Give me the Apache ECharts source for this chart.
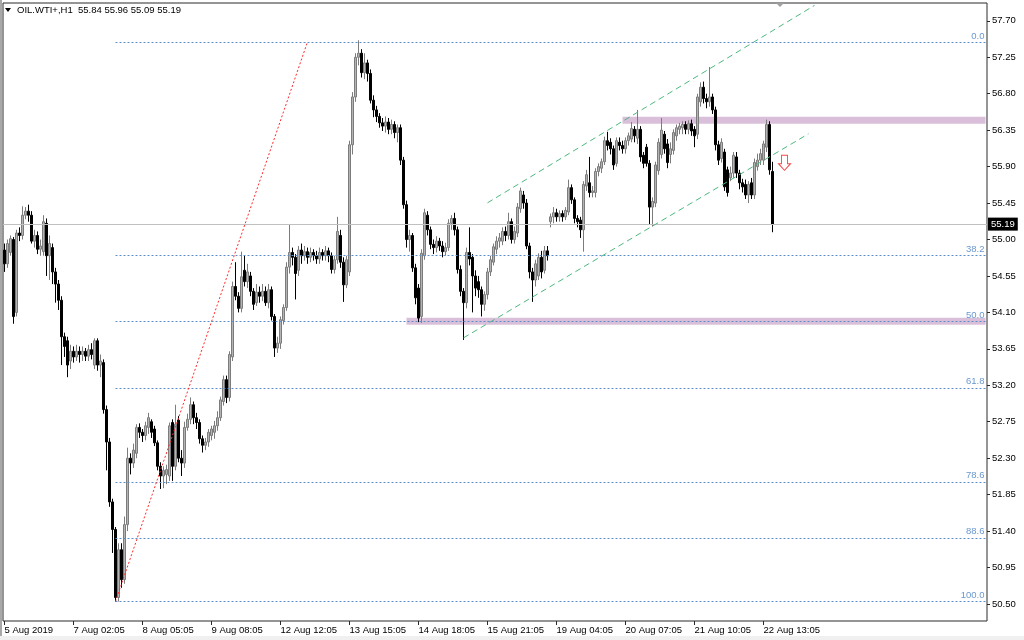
<!DOCTYPE html>
<html><head><meta charset="utf-8">
<script src="https://cdn.jsdelivr.net/npm/echarts@6/dist/echarts.min.js"></script>
<style>html,body{margin:0;padding:0;background:#fff}#c{width:1024px;height:640px}</style>
</head><body><div id="c"></div>
<script>
// ---- data ----
const totalSlots = 328;
const labelIdx = [0, 23, 46, 69, 92, 115, 138, 161, 184, 207, 230, 253];
const labelText = ['5 Aug 2019','7 Aug 02:05','8 Aug 05:05','9 Aug 08:05','12 Aug 12:05','13 Aug 15:05','14 Aug 18:05','15 Aug 21:05','19 Aug 04:05','20 Aug 07:05','21 Aug 10:05','22 Aug 13:05'];
const yTicks = [50.50,50.95,51.40,51.85,52.30,52.75,53.20,53.65,54.10,54.55,55.00,55.45,55.90,56.35,56.80,57.25,57.70];
// [open, close, low, high]
const candles = [
[54.87,54.70,54.60,54.95],[54.70,54.95,54.65,55.00],[54.84,55.01,54.80,55.05],[55.00,54.05,53.96,55.03],[54.10,55.08,54.05,55.12],
[55.08,55.05,54.98,55.15],[55.05,55.30,55.00,55.41],[55.30,55.35,55.25,55.40],[55.35,55.30,55.22,55.43],[55.30,54.98,54.95,55.35],
[54.98,55.05,54.90,55.12],[55.05,54.88,54.82,55.10],[54.88,54.92,54.80,55.00],[54.85,55.22,54.80,55.30],[55.20,54.80,54.55,55.26],
[54.80,54.95,54.50,55.05],[54.90,54.60,54.45,54.95],[54.60,54.45,54.22,54.65],[54.45,54.25,54.13,54.50],[54.25,53.80,53.45,54.30],
[53.80,53.68,53.55,53.85],[53.75,53.45,53.30,53.80],[53.50,53.62,53.40,53.70],[53.62,53.55,53.48,53.68],[53.55,53.62,53.50,53.70],
[53.62,53.58,53.48,53.68],[53.58,53.62,53.50,53.68],[53.62,53.56,53.50,53.66],[53.56,53.64,53.50,53.70],[53.64,53.58,53.52,53.72],
[53.45,53.75,53.40,53.78],[53.75,53.45,53.38,53.78],[53.45,53.50,53.30,53.58],[53.48,52.90,52.85,53.52],[52.90,52.50,52.15,52.95],
[52.50,51.76,51.70,52.55],[51.76,51.42,51.13,51.80],[51.42,50.58,50.53,51.45],[50.58,51.17,50.53,51.25],[51.17,50.80,50.70,51.25],
[50.80,51.48,50.75,51.58],[51.48,52.30,51.40,52.43],[52.30,52.24,52.10,52.36],[52.24,52.40,52.18,52.48],[52.36,52.68,52.30,52.72],
[52.68,52.62,52.55,52.73],[52.62,52.58,52.50,52.66],[52.58,52.70,52.52,52.75],[52.68,52.80,52.60,52.86],[52.75,52.62,52.55,52.78],
[52.66,52.49,52.45,52.70],[52.49,52.20,52.15,52.52],[52.20,52.08,51.92,52.25],[52.08,52.15,51.93,52.20],[52.10,52.16,51.98,52.22],
[52.08,52.70,52.02,52.74],[52.74,52.20,52.02,52.78],[52.20,52.72,52.15,52.96],[52.77,52.30,52.25,52.82],[52.30,52.24,52.08,52.40],
[52.24,52.68,52.18,52.75],[52.68,52.78,52.64,52.85],[52.78,52.96,52.72,53.05],[52.96,52.80,52.72,53.00],[52.80,52.74,52.66,52.86],
[52.74,52.54,52.48,52.78],[52.54,52.46,52.37,52.58],[52.46,52.50,52.40,52.55],[52.50,52.62,52.44,52.66],[52.58,52.66,52.52,52.70],
[52.62,52.70,52.54,52.76],[52.70,52.80,52.64,52.88],[52.80,53.02,52.76,53.06],[53.00,53.27,52.95,53.32],[53.27,53.05,52.98,53.32],
[53.05,53.58,53.00,53.62],[53.55,54.42,53.50,54.48],[54.42,54.30,54.25,54.72],[54.30,54.15,54.10,54.35],[54.15,54.54,54.10,54.85],
[54.62,54.48,54.42,54.80],[54.48,54.60,54.40,54.70],[54.55,54.36,54.30,54.60],[54.36,54.20,54.13,54.40],[54.22,54.35,54.18,54.45],
[54.35,54.30,54.22,54.42],[54.30,54.36,54.24,54.45],[54.36,54.22,54.18,54.42],[54.22,54.38,54.15,54.45],[54.38,54.05,54.00,54.42],
[54.05,53.66,53.55,54.08],[53.66,53.72,53.60,53.80],[53.72,54.01,53.65,54.05],[54.00,54.16,53.95,54.20],[54.16,54.66,54.12,54.72],
[54.66,54.84,54.58,55.18],[54.84,54.78,54.68,54.90],[54.78,54.58,54.26,54.82],[54.62,54.87,54.55,54.92],[54.87,54.80,54.70,54.95],
[54.80,54.85,54.74,54.92],[54.85,54.78,54.70,54.90],[54.78,54.84,54.72,54.90],[54.84,54.80,54.74,54.88],[54.80,54.76,54.70,54.86],
[54.76,54.84,54.70,54.90],[54.84,54.80,54.74,54.88],[54.80,54.86,54.74,54.92],[54.86,54.80,54.72,54.90],[54.80,54.63,54.58,54.84],
[54.63,54.75,54.58,54.80],[54.75,55.10,54.70,55.28],[55.05,54.72,54.65,55.12],[54.72,54.44,54.23,54.78],[54.44,54.75,54.40,54.80],
[54.60,56.17,54.55,56.22],[56.17,56.76,56.05,56.82],[56.76,57.25,56.70,57.30],[57.25,57.30,57.15,57.46],[57.30,57.06,57.00,57.35],
[57.06,57.18,56.98,57.30],[57.18,57.05,56.95,57.22],[57.05,56.72,56.68,57.10],[56.72,56.60,56.51,56.78],[56.60,56.52,56.45,56.65],
[56.52,56.44,56.38,56.56],[56.44,56.40,56.34,56.50],[56.40,56.45,56.32,56.52],[56.45,56.36,56.30,56.50],[56.36,56.42,56.30,56.48],
[56.42,56.32,56.25,56.46],[56.32,56.38,56.20,56.42],[56.38,55.98,55.92,56.42],[55.98,55.43,55.38,56.02],[55.43,55.00,54.90,55.48],
[55.00,55.05,54.85,55.12],[55.05,54.65,54.60,55.08],[54.65,54.28,54.20,54.70],[54.40,54.03,53.98,54.45],[54.05,54.83,53.97,54.88],
[54.80,55.33,54.75,55.38],[55.30,55.12,55.05,55.35],[55.12,54.94,54.88,55.16],[54.94,54.90,54.82,55.00],[54.90,54.98,54.84,55.04],
[54.98,54.92,54.86,55.02],[54.92,54.85,54.78,54.98],[54.85,54.90,54.80,54.96],[54.90,55.20,54.86,55.25],[55.20,55.26,55.12,55.30],
[55.26,55.12,55.05,55.33],[55.12,54.63,54.58,55.16],[54.63,54.36,54.30,54.68],[54.36,54.22,53.76,54.40],[54.22,54.84,54.15,54.90],
[54.84,54.76,54.68,55.15],[54.78,54.55,54.10,54.82],[54.55,54.40,54.30,54.62],[54.48,54.38,54.28,54.55],[54.38,54.20,54.05,54.42],
[54.20,54.32,54.12,54.36],[54.32,54.60,54.26,54.65],[54.60,54.75,54.55,54.80],[54.72,54.91,54.68,54.95],[54.88,54.98,54.82,55.04],
[54.98,55.02,54.90,55.08],[54.98,55.10,54.93,55.15],[55.10,55.05,54.98,55.16],[55.05,55.22,55.00,55.33],[55.22,55.00,54.95,55.26],
[55.00,55.10,54.95,55.16],[55.08,55.40,55.03,55.45],[55.38,55.60,55.33,55.64],[55.55,55.45,55.38,55.60],[55.45,54.92,54.88,55.50],
[54.92,54.60,54.52,54.96],[54.60,54.50,54.23,54.65],[54.50,54.70,54.42,54.75],[54.55,54.78,54.50,54.83],[54.78,54.60,54.52,54.86],
[54.62,54.86,54.58,54.92],[54.86,54.80,54.74,54.92],[55.22,55.28,55.15,55.32],[55.28,55.33,55.20,55.40],[55.33,55.28,55.22,55.38],
[55.28,55.32,55.22,55.36],[55.32,55.28,55.22,55.36],[55.28,55.36,55.24,55.40],[55.34,55.64,55.30,55.74],[55.64,55.49,55.44,55.68],
[55.49,55.26,55.20,55.52],[55.26,55.22,55.15,55.30],[55.24,55.12,55.02,55.28],[55.12,55.68,54.85,55.72],[55.66,55.80,55.60,55.86],
[55.70,55.58,55.52,56.02],[55.58,55.60,55.52,55.66],[55.58,55.84,55.52,55.88],[55.84,55.90,55.78,55.94],[55.88,55.96,55.82,56.00],
[55.96,56.22,55.92,56.27],[56.22,56.16,56.10,56.33],[56.20,56.12,56.05,56.25],[56.12,55.92,55.86,56.16],[55.94,56.22,55.90,56.26],
[56.20,56.16,56.10,56.26],[56.16,56.12,56.06,56.22],[56.12,56.22,56.06,56.26],[56.22,56.28,56.16,56.32],[56.24,56.37,56.20,56.45],
[56.36,56.28,56.20,56.40],[56.25,56.36,56.18,56.60],[56.36,56.02,55.96,56.40],[56.04,55.94,55.88,56.08],[56.14,55.94,55.90,56.18],
[55.94,55.40,55.18,55.98],[55.40,55.47,55.16,55.52],[55.45,55.92,55.40,55.96],[55.85,56.20,55.80,56.25],[56.05,56.35,56.00,56.50],
[56.30,56.12,56.06,56.34],[56.18,55.95,55.88,56.24],[56.05,56.12,55.94,56.20],[56.10,56.32,56.05,56.36],[56.28,56.38,56.22,56.42],
[56.36,56.40,56.30,56.44],[56.38,56.42,56.30,56.46],[56.42,56.36,56.30,56.46],[56.36,56.43,56.30,56.47],[56.43,56.34,56.28,56.48],
[56.36,56.28,56.14,56.40],[56.30,56.76,56.24,56.80],[56.70,56.88,56.64,56.94],[56.88,56.74,56.68,56.95],[56.74,56.70,56.62,56.80],
[56.70,56.76,56.64,57.13],[56.76,56.60,56.55,56.80],[56.60,56.17,56.10,56.64],[56.17,55.98,55.92,56.22],[56.00,56.20,55.95,56.25],
[56.08,55.65,55.60,56.12],[55.86,55.58,55.53,55.90],[55.76,55.82,55.72,55.90],[55.82,56.04,55.76,56.08],[56.02,55.82,55.76,56.08],
[55.82,55.70,55.62,55.86],[55.70,55.65,55.58,55.75],[55.68,55.55,55.50,55.74],[55.55,55.68,55.45,55.72],[55.70,55.55,55.50,55.76],
[55.55,55.95,55.50,56.00],[55.90,55.98,55.85,56.06],[55.98,56.06,55.92,56.12],[55.98,56.18,55.92,56.22],[56.14,56.42,56.08,56.48],
[56.42,55.86,55.80,56.46],[55.84,55.19,55.09,55.96]
];
const lastPrice = 55.19;
const fibHigh = 57.44, fibLow = 50.53;
const fibRatios = [0, 38.2, 50.0, 61.8, 78.6, 88.6, 100.0];
const fibLabels = ['0.0','38.2','50.0','61.8','78.6','88.6','100.0'];
const fibStartIdx = 37, fibDiagEndIdx = 100.5;
const bandUpper = [56.43, 56.515], bandUpperStart = 206;
const bandLower = [53.947, 54.033], bandLowerStart = 134;
const chanUpper = [[160.5, 55.453], [270, 57.89]];
const chanLower = [[152.5, 53.786], [267.5, 56.305]];
const arrowAt = [260, 55.947];

// ---- build ----
const categories = [];
for (let i = 0; i < totalSlots; i++) {
  const k = labelIdx.indexOf(i);
  categories.push(k >= 0 ? labelText[k] : '');
}
const showIdx = (i) => labelIdx.indexOf(i) >= 0;
const endIdx = totalSlots - 1;
const FONT = 'Liberation Sans, Arial, sans-serif';

const fibLines = fibRatios.map((r, k) => {
  const v = fibHigh - (fibHigh - fibLow) * r / 100;
  return [
    { coord: [fibStartIdx, v], lineStyle: { color: '#5a8fcc', type: [2, 2], width: 1 },
      label: { show: true, position: 'insideEndTop', formatter: fibLabels[k], color: '#6a98cf', fontSize: 9.5, fontFamily: FONT, distance: 1 } },
    { coord: [endIdx, v] }
  ];
});

const chart = echarts.init(document.getElementById('c'), null, { renderer: 'canvas' });
chart.setOption({
  animation: false,
  backgroundColor: '#fff',
  grid: { left: 3, right: 37, top: 3, bottom: 19, show: true, borderColor: '#2a2a2a', borderWidth: 1, backgroundColor: '#fff' },
  xAxis: {
    type: 'category', data: categories, boundaryGap: true,
    axisLine: { show: false },
    axisTick: { show: true, alignWithLabel: true, interval: (i) => showIdx(i), length: 4, lineStyle: { color: '#2a2a2a' } },
    axisLabel: { interval: (i) => showIdx(i), align: 'left', margin: 4, fontSize: 9.5, fontFamily: FONT, color: '#000' },
    splitLine: { show: false }
  },
  yAxis: {
    type: 'value', position: 'right', min: 50.29, max: 57.92, scale: true,
    axisLine: { show: false },
    axisTick: { show: true, length: 3, customValues: yTicks, lineStyle: { color: '#2a2a2a' } },
    axisLabel: { customValues: yTicks, formatter: (v) => v.toFixed(2), fontSize: 9.5, fontFamily: FONT, color: '#000', margin: 5 },
    splitLine: { show: false }
  },
  series: [
    {
      type: 'line', data: [], z: 1, silent: true,
      markArea: {
        silent: true,
        itemStyle: { color: '#d9bfd9' },
        data: [
          [{ coord: [bandUpperStart, bandUpper[1]] }, { coord: [endIdx, bandUpper[0]] }],
          [{ coord: [bandLowerStart, bandLower[1]] }, { coord: [endIdx, bandLower[0]] }]
        ]
      },
      markLine: {
        silent: true, symbol: ['none', 'none'], label: { show: false },
        data: [
          { yAxis: lastPrice, lineStyle: { color: '#c0c0c0', type: 'solid', width: 1 },
            label: { show: true, position: 'end', formatter: lastPrice.toFixed(2), backgroundColor: '#000', color: '#fff', padding: [2, 3, 1, 3], fontSize: 9.5, fontFamily: FONT, distance: 1 } }
        ]
      }
    },
    {
      type: 'candlestick', data: candles, z: 3, barWidth: 2,
      itemStyle: { color: '#b4b4b4', color0: '#000000', borderColor: '#7c7c7c', borderColor0: '#000000', borderWidth: 1 },
      markLine: {
        silent: true, symbol: ['none', 'none'], label: { show: false },
        data: fibLines.concat([
          [{ coord: [fibStartIdx, fibLow], lineStyle: { color: '#ff2a2a', type: [2, 2], width: 1 } }, { coord: [fibDiagEndIdx, fibHigh] }],
          [{ coord: chanUpper[0], lineStyle: { color: '#4cb87e', type: [6, 4], width: 1 } }, { coord: chanUpper[1] }],
          [{ coord: chanLower[0], lineStyle: { color: '#4cb87e', type: [6, 4], width: 1 } }, { coord: chanLower[1] }]
        ])
      },
      markPoint: {
        silent: true,
        data: [{ coord: arrowAt, symbol: 'path://M3,0 L9,0 L9,9 L12,9 L6,16 L0,9 L3,9 Z', symbolSize: [12, 15],
          itemStyle: { color: '#fff', borderColor: '#f04848', borderWidth: 1 }, label: { show: false } }]
      }
    }
  ],
  graphic: [
    { type: 'rect', shape: { x: 0, y: 0, width: 2, height: 640 }, style: { fill: '#a8a8a8' }, silent: true },
    { type: 'rect', shape: { x: 0, y: 636, width: 1024, height: 4 }, style: { fill: '#f0f0f0' }, silent: true },
    { type: 'polygon', shape: { points: [[5, 8], [11, 8], [8, 12]] }, style: { fill: '#000' }, silent: true },
    { type: 'text', x: 17, y: 5, style: { text: 'OIL.WTI+,H1  55.84 55.96 55.09 55.19', fontSize: 9.5, fontFamily: FONT, fill: '#000' }, silent: true },
    { type: 'polygon', shape: { points: [[776, 3], [784, 3], [780, 7]] }, style: { fill: '#a0a0a0' }, silent: true }
  ]
});
</script>
</body></html>
